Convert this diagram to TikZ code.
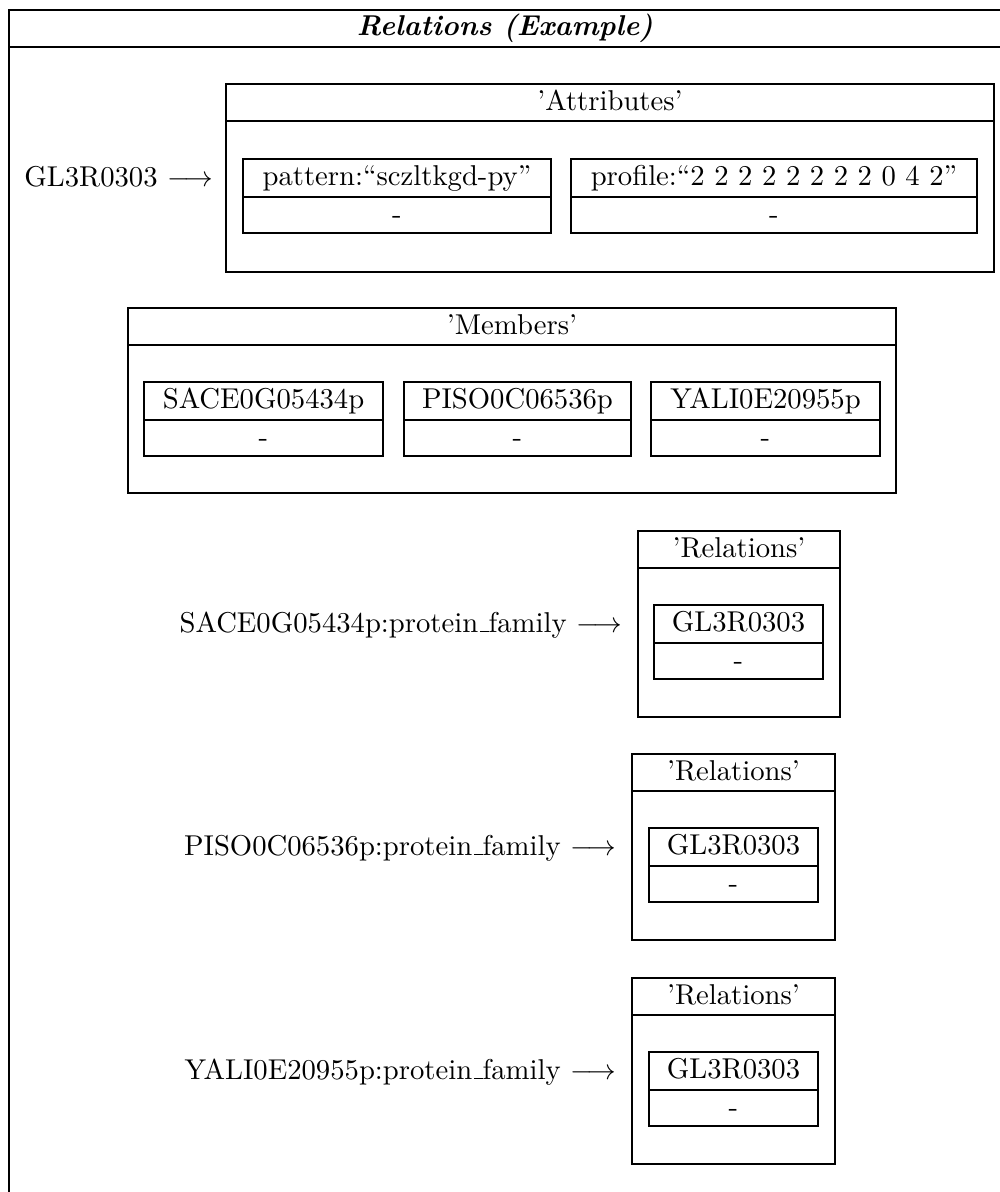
\documentclass[tikz,border=0pt]{standalone}
\usetikzlibrary{calc}
% one drawing unit = one pixel of the final picture
\newcommand\pxu{0.3487pt}
% short low bar between words, as in classic TeX fonts
\newcommand\lowbar{\leavevmode\kern.06em\vbox{\hrule width.3em}}

% a two-row record cell: key on top, value "-" below
\newcommand\cellbox[5]{%
  \node[tbox={#4}{74}] (#1) at (#2,#3) {};
  \draw[rulestyle] ($(#1.north west)+(0,38)$) -- ($(#1.north east)+(0,38)$);
  \node[txt] (#1-key) at ($(#1.north)+(0,26)$) {#5};
  \node[txt] (#1-val) at ($(#1.north)+(0,64)$) {-};
}
% a titled group box
\newcommand\groupbox[6]{%
  \node[tbox={#4}{#5}] (#1) at (#2,#3) {};
  \draw[rulestyle] ($(#1.north west)+(0,37)$) -- ($(#1.north east)+(0,37)$);
  \node[txt] (#1-head) at ($(#1.north)+(0,26)$) {#6};
}

\begin{document}
\begin{tikzpicture}[x=\pxu, y=-\pxu,
  tbox/.style 2 args={draw, line width=0.4pt, anchor=north west, inner sep=0pt,
    outer sep=0pt, minimum width={#1*\pxu}, minimum height={#2*\pxu}},
  rulestyle/.style={line width=0.4pt},
  txt/.style={inner sep=0pt, anchor=base},
  lbl/.style={inner sep=0pt, anchor=base east}]

\useasboundingbox (0,0) rectangle (1000,1192);
\clip (0,0) rectangle (1000,1192);

% outer frame with title row
\node[tbox={992}{1250}] (outer) at (9,10) {};
\draw[rulestyle] ($(outer.north west)+(0,37)$) -- ($(outer.north east)+(0,37)$);
\node[txt] (title) at ($(outer.north)+(0,25)$) {\textbf{\textit{Relations (Example)}}};

% attributes of the family
\groupbox{attr}{226}{84}{768}{188}{'Attributes'}
\cellbox{pat}{243}{159}{308}{pattern:``sczltkgd-py''}
\cellbox{prof}{571}{159}{406}{profile:``2 2 2 2 2 2 2 2 0 4 2''}
\node[lbl] (gl) at ($(attr.west)+(-12,8)$) {GL3R0303 $\longrightarrow$};

% members
\groupbox{mem}{128}{308}{768}{185}{'Members'}
\cellbox{sace}{144}{382}{239}{SACE0G05434p}
\cellbox{piso}{404}{382}{227}{PISO0C06536p}
\cellbox{yali}{651}{382}{229}{YALI0E20955p}

% relations of each member
\groupbox{relA}{638}{531}{202}{186}{'Relations'}
\cellbox{inA}{654}{605}{169}{GL3R0303}
\node[lbl] (labA) at ($(relA.west)+(-15,8)$) {SACE0G05434p:protein\lowbar family $\longrightarrow$};

\groupbox{relB}{632}{754}{203}{186}{'Relations'}
\cellbox{inB}{649}{828}{169}{GL3R0303}
\node[lbl] (labB) at ($(relB.west)+(-15,8)$) {PISO0C06536p:protein\lowbar family $\longrightarrow$};

\groupbox{relC}{632}{978}{203}{186}{'Relations'}
\cellbox{inC}{649}{1052}{169}{GL3R0303}
\node[lbl] (labC) at ($(relC.west)+(-15,8)$) {YALI0E20955p:protein\lowbar family $\longrightarrow$};

\end{tikzpicture}
\end{document}
